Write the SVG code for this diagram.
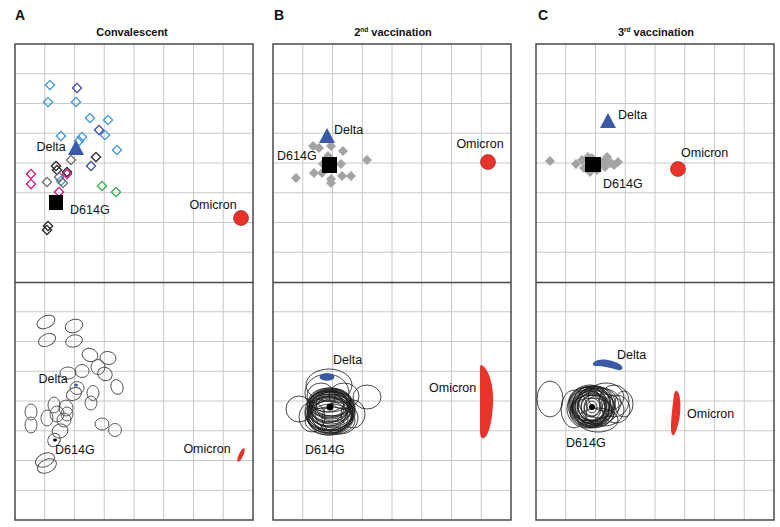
<svg xmlns="http://www.w3.org/2000/svg" xmlns:xlink="http://www.w3.org/1999/xlink" width="780" height="527" viewBox="0 0 780 527">
<style>
text{font-family:"Liberation Sans",Arial,sans-serif;fill:#111}
.lbl{font-size:12.5px}
.hd{font-size:11px;font-weight:bold}
.pl{font-size:14px;font-weight:bold}
.sup{font-size:6.5px;font-weight:bold}
.gl{fill:none;stroke:#c8c8c8;stroke-width:1}
.bd{fill:none;stroke:#4a4a4a;stroke-width:1.5}
.lb{fill:none;stroke:#3f95dc;stroke-width:1.3}
.db{fill:none;stroke:#3d4ba6;stroke-width:1.3}
.bk{fill:none;stroke:#222;stroke-width:1.3}
.gr{fill:none;stroke:#6e6e6e;stroke-width:1.3}
.mg{fill:none;stroke:#d6147e;stroke-width:1.3}
.gn{fill:none;stroke:#2bb04a;stroke-width:1.3}
.gf{fill:#a3a3a3}
.ea{fill:none;stroke:#4a4a4a;stroke-width:0.9}
.ec{fill:none;stroke:#1a1a1a;stroke-width:0.8}
.delta{fill:#3a5aa6}
.omi{fill:#e8332a}
.omc{fill:#e8332a;stroke:#8a1a14;stroke-width:0.6}
</style>
<defs>
<g id="grid">
<path class="gl" d="M29.75 44V520M59.5 44V520M89.25 44V520M119 44V520M148.75 44V520M178.5 44V520M208.25 44V520M0 73.75H238M0 103.5H238M0 133.25H238M0 163H238M0 192.75H238M0 222.5H238M0 252.25H238M0 311.75H238M0 341.5H238M0 371.25H238M0 401H238M0 430.75H238M0 460.5H238M0 490.25H238"/>
<rect class="bd" x="0" y="44" width="238" height="476"/>
<path class="bd" d="M0 282.5H238"/>
</g>
<path id="dm" d="M0,-4.6L4.6,0L0,4.6L-4.6,0Z"/>
<path id="gd" d="M0,-5L5,0L0,5L-5,0Z"/>
</defs>

<g id="headers">
<text class="pl" x="15" y="20">A</text>
<text class="hd" x="132" y="36" text-anchor="middle">Convalescent</text>
<text class="pl" x="274" y="20">B</text>
<text class="hd" x="393" y="36" text-anchor="middle">2<tspan class="sup" dy="-4">nd</tspan><tspan dy="4"> vaccination</tspan></text>
<text class="pl" x="538" y="20">C</text>
<text class="hd" x="656" y="36" text-anchor="middle">3<tspan class="sup" dy="-4">rd</tspan><tspan dy="4"> vaccination</tspan></text>
</g>

<g id="grids">
<use xlink:href="#grid" transform="translate(15,0)"/>
<use xlink:href="#grid" transform="translate(273,0)"/>
<use xlink:href="#grid" transform="translate(536,0)"/>
</g>

<!-- Panel A top -->
<g id="A-top">
<g id="A-sera">
<use xlink:href="#dm" class="lb" x="50" y="85"/>
<use xlink:href="#dm" class="lb" x="48" y="102"/>
<use xlink:href="#dm" class="lb" x="76" y="102"/>
<use xlink:href="#dm" class="lb" x="90" y="118"/>
<use xlink:href="#dm" class="lb" x="108" y="120"/>
<use xlink:href="#dm" class="lb" x="61" y="136"/>
<use xlink:href="#dm" class="lb" x="82" y="137"/>
<use xlink:href="#dm" class="lb" x="79" y="141"/>
<use xlink:href="#dm" class="lb" x="105" y="135"/>
<use xlink:href="#dm" class="lb" x="117" y="150"/>
<use xlink:href="#dm" class="lb" x="61" y="181"/>
<use xlink:href="#dm" class="db" x="77" y="88"/>
<use xlink:href="#dm" class="db" x="99" y="130"/>
<use xlink:href="#dm" class="db" x="91" y="166"/>
<use xlink:href="#dm" class="bk" x="96" y="157"/>
<use xlink:href="#dm" class="bk" x="56" y="166"/>
<use xlink:href="#dm" class="bk" x="57" y="170"/>
<use xlink:href="#dm" class="bk" x="67" y="172"/>
<use xlink:href="#dm" class="bk" x="48" y="226"/>
<use xlink:href="#dm" class="bk" x="47" y="230"/>
<use xlink:href="#dm" class="gr" x="71" y="160"/>
<use xlink:href="#dm" class="gr" x="47" y="182"/>
<use xlink:href="#dm" class="gr" x="63" y="183"/>
<use xlink:href="#dm" class="gr" x="59" y="177"/>
<use xlink:href="#dm" class="mg" x="31" y="174"/>
<use xlink:href="#dm" class="mg" x="31" y="184"/>
<use xlink:href="#dm" class="mg" x="67" y="174"/>
<use xlink:href="#dm" class="mg" x="59" y="192"/>
<use xlink:href="#dm" class="gn" x="102" y="186"/>
<use xlink:href="#dm" class="gn" x="116" y="192"/>
</g>
<g id="A-delta"><path class="delta" d="M76,140L84,155L68,155Z"/><text class="lbl" x="51" y="151" text-anchor="middle">Delta</text></g>
<g id="A-d614g"><rect x="49" y="195" width="14" height="15" fill="#000"/><text class="lbl" x="70" y="214">D614G</text></g>
<g id="A-omicron"><circle class="omc" cx="241" cy="218" r="7.5"/><text class="lbl" x="213" y="209" text-anchor="middle">Omicron</text></g>
</g>

<!-- Panel A bottom -->
<g id="A-bottom">
<g id="A-ellipses">
<ellipse class="ea" cx="46" cy="322" rx="9.5" ry="6" transform="rotate(-25 46 322)"/>
<ellipse class="ea" cx="74" cy="326" rx="9" ry="6.5" transform="rotate(-20 74 326)"/>
<ellipse class="ea" cx="47" cy="340" rx="9" ry="6" transform="rotate(-25 47 340)"/>
<ellipse class="ea" cx="74" cy="341" rx="8.5" ry="6" transform="rotate(-15 74 341)"/>
<ellipse class="ea" cx="90" cy="355" rx="8" ry="6.5" transform="rotate(20 90 355)"/>
<ellipse class="ea" cx="108" cy="358" rx="8" ry="6.5" transform="rotate(10 108 358)"/>
<ellipse class="ea" cx="98" cy="367" rx="7" ry="7.5"/>
<ellipse class="ea" cx="105" cy="374" rx="7.5" ry="6.5" transform="rotate(30 105 374)"/>
<ellipse class="ea" cx="117" cy="387" rx="6" ry="7.5" transform="rotate(-20 117 387)"/>
<ellipse class="ea" cx="82" cy="371" rx="7" ry="6.5"/>
<ellipse class="ea" cx="68" cy="373" rx="8" ry="6"/>
<ellipse class="ea" cx="77" cy="388" rx="7" ry="6.5"/>
<ellipse class="ea" cx="74" cy="394" rx="8" ry="6" transform="rotate(-30 74 394)"/>
<ellipse class="ea" cx="93" cy="393" rx="6" ry="7.5"/>
<ellipse class="ea" cx="91" cy="403" rx="6" ry="7"/>
<ellipse class="ea" cx="31" cy="412" rx="6" ry="8"/>
<ellipse class="ea" cx="31" cy="425" rx="6" ry="8"/>
<ellipse class="ea" cx="54" cy="405" rx="6" ry="8"/>
<ellipse class="ea" cx="66" cy="408" rx="7" ry="8"/>
<ellipse class="ea" cx="47" cy="418" rx="6" ry="8"/>
<ellipse class="ea" cx="57" cy="414" rx="7" ry="8"/>
<ellipse class="ea" cx="64" cy="420" rx="7" ry="7"/>
<ellipse class="ea" cx="67" cy="414" rx="6" ry="7"/>
<ellipse class="ea" cx="60" cy="431" rx="8" ry="7" transform="rotate(-20 60 431)"/>
<ellipse class="ea" cx="102" cy="424" rx="7" ry="6"/>
<ellipse class="ea" cx="115" cy="430" rx="6.5" ry="6.5"/>
<ellipse class="ea" cx="54" cy="440" rx="6" ry="7" transform="rotate(30 54 440)"/>
<ellipse class="ea" cx="45" cy="460" rx="10" ry="6.5" transform="rotate(-25 45 460)"/>
<ellipse class="ea" cx="47" cy="466" rx="10" ry="6.5" transform="rotate(-25 47 466)"/>
</g>
<g id="A-delta-b"><ellipse cx="76" cy="385" rx="2" ry="1.6" fill="#3a5aa6"/><text class="lbl" x="53" y="383" text-anchor="middle">Delta</text></g>
<g id="A-d614g-b"><ellipse cx="55" cy="440" rx="2" ry="1.6" fill="#000"/><text class="lbl" x="55" y="454">D614G</text></g>
<g id="A-omicron-b"><ellipse class="omi" cx="241" cy="455" rx="2.2" ry="7.5" transform="rotate(25 241 455)"/><text class="lbl" x="207" y="453" text-anchor="middle">Omicron</text></g>
</g>

<!-- Panel B top -->
<g id="B-top">
<g id="B-sera">
<use xlink:href="#gd" class="gf" x="313" y="146"/>
<use xlink:href="#gd" class="gf" x="319" y="148"/>
<use xlink:href="#gd" class="gf" x="331" y="146"/>
<use xlink:href="#gd" class="gf" x="343" y="151"/>
<use xlink:href="#gd" class="gf" x="367" y="160"/>
<use xlink:href="#gd" class="gf" x="328" y="156"/>
<use xlink:href="#gd" class="gf" x="341" y="164"/>
<use xlink:href="#gd" class="gf" x="323" y="164"/>
<use xlink:href="#gd" class="gf" x="314" y="173"/>
<use xlink:href="#gd" class="gf" x="322" y="173"/>
<use xlink:href="#gd" class="gf" x="296" y="178"/>
<use xlink:href="#gd" class="gf" x="342" y="176"/>
<use xlink:href="#gd" class="gf" x="351" y="176"/>
<use xlink:href="#gd" class="gf" x="331" y="179"/>
<use xlink:href="#gd" class="gf" x="331" y="183"/>
</g>
<g id="B-delta"><path class="delta" d="M327,128L335,143L319,143Z"/><text class="lbl" x="334" y="134">Delta</text></g>
<g id="B-d614g"><rect x="322" y="157" width="15" height="16" fill="#000"/><text class="lbl" x="277" y="160">D614G</text></g>
<g id="B-omicron"><circle class="omc" cx="488" cy="162" r="7.5"/><text class="lbl" x="480" y="148" text-anchor="middle">Omicron</text></g>
</g>

<!-- Panel B bottom -->
<g id="B-bottom">
<g id="B-ellipses">
<ellipse class="ec" cx="329" cy="385" rx="23" ry="16"/>
<ellipse class="ec" cx="327" cy="393" rx="22" ry="19"/>
<ellipse class="ec" cx="299" cy="409" rx="13" ry="13"/>
<ellipse class="ec" cx="367" cy="397" rx="14" ry="12"/>
<ellipse class="ec" cx="312" cy="417" rx="13" ry="15"/>
<ellipse class="ec" cx="353" cy="414" rx="12" ry="14"/>
<ellipse class="ec" cx="330" cy="421" rx="25" ry="14"/>
<ellipse class="ec" cx="321" cy="396" rx="14" ry="13"/>
<ellipse class="ec" cx="344" cy="396" rx="15" ry="13"/>
<ellipse class="ec" cx="340" cy="418" rx="18" ry="16"/>
<ellipse class="ec" cx="330" cy="402" rx="20" ry="14"/>
<ellipse class="ec" cx="331" cy="404" rx="21" ry="15"/>
<ellipse class="ec" cx="329" cy="406" rx="20" ry="16"/>
<ellipse class="ec" cx="332" cy="407" rx="22" ry="15"/>
<ellipse class="ec" cx="330" cy="409" rx="21" ry="17"/>
<ellipse class="ec" cx="328" cy="410" rx="20" ry="16"/>
<ellipse class="ec" cx="333" cy="411" rx="22" ry="17"/>
<ellipse class="ec" cx="330" cy="412" rx="23" ry="18"/>
<ellipse class="ec" cx="331" cy="414" rx="21" ry="16"/>
<ellipse class="ec" cx="329" cy="415" rx="22" ry="18"/>
<ellipse class="ec" cx="332" cy="416" rx="20" ry="17"/>
<ellipse class="ec" cx="330" cy="417" rx="23" ry="16"/>
<ellipse class="ec" cx="334" cy="413" rx="19" ry="18"/>
<ellipse class="ec" cx="327" cy="413" rx="19" ry="17"/>
<ellipse class="ec" cx="330" cy="405" rx="18" ry="13"/>
<ellipse class="ec" cx="331" cy="408" rx="24" ry="19"/>
<ellipse class="ec" cx="329" cy="411" rx="24" ry="20"/>
<ellipse class="ec" cx="333" cy="406" rx="17" ry="15"/>
<ellipse class="ec" cx="327" cy="407" rx="17" ry="16"/>
<ellipse class="ec" cx="330" cy="414" rx="25" ry="17"/>
<ellipse class="ec" cx="331" cy="419" rx="22" ry="15"/>
<ellipse class="ec" cx="328" cy="418" rx="20" ry="17"/>
<ellipse class="ec" cx="332" cy="403" rx="19" ry="13"/>
<ellipse class="ec" cx="330" cy="400" rx="21" ry="12"/>
<ellipse class="ec" cx="330" cy="404" rx="23" ry="13"/>
<ellipse class="ec" cx="331" cy="410" rx="19" ry="14"/>
</g>
<g id="B-delta-b"><ellipse cx="327" cy="377" rx="7.5" ry="3.8" fill="#3a5aa6"/><text class="lbl" x="333" y="364">Delta</text></g>
<g id="B-d614g-b"><circle cx="330" cy="407" r="3.5" fill="#000"/><text class="lbl" x="305" y="454">D614G</text></g>
<g id="B-omicron-b"><path class="omi" d="M481,365C488,367 494,384 493,404C492,424 488,436 484,438C481,439 480,436 480,430L480,372C480,367 480,365 481,365Z"/><text class="lbl" x="429" y="392">Omicron</text></g>
</g>

<!-- Panel C top -->
<g id="C-top">
<g id="C-sera">
<use xlink:href="#gd" class="gf" x="550" y="161"/>
<use xlink:href="#gd" class="gf" x="576" y="164"/>
<use xlink:href="#gd" class="gf" x="582" y="160"/>
<use xlink:href="#gd" class="gf" x="588" y="157"/>
<use xlink:href="#gd" class="gf" x="592" y="158"/>
<use xlink:href="#gd" class="gf" x="584" y="168"/>
<use xlink:href="#gd" class="gf" x="590" y="172"/>
<use xlink:href="#gd" class="gf" x="597" y="170"/>
<use xlink:href="#gd" class="gf" x="603" y="162"/>
<use xlink:href="#gd" class="gf" x="607" y="157"/>
<use xlink:href="#gd" class="gf" x="611" y="163"/>
<use xlink:href="#gd" class="gf" x="614" y="165"/>
<use xlink:href="#gd" class="gf" x="618" y="162"/>
<use xlink:href="#gd" class="gf" x="605" y="167"/>
</g>
<g id="C-delta"><path class="delta" d="M608,113L616,128L600,128Z"/><text class="lbl" x="618" y="119">Delta</text></g>
<g id="C-d614g"><rect x="585" y="157" width="16" height="15" fill="#000"/><text class="lbl" x="603" y="188">D614G</text></g>
<g id="C-omicron"><circle class="omc" cx="678" cy="169" r="7.5"/><text class="lbl" x="681" y="157">Omicron</text></g>
</g>

<!-- Panel C bottom -->
<g id="C-bottom">
<g id="C-ellipses">
<ellipse class="ec" cx="550" cy="399" rx="13" ry="18"/>
<ellipse class="ec" cx="624" cy="404" rx="9" ry="13"/>
<ellipse class="ec" cx="614" cy="401" rx="15" ry="16"/>
<ellipse class="ec" cx="574" cy="409" rx="13" ry="19"/>
<ellipse class="ec" cx="598" cy="420" rx="20" ry="12"/>
<ellipse class="ec" cx="606" cy="397" rx="18" ry="14"/>
<ellipse class="ec" cx="590" cy="403" rx="20" ry="18"/>
<ellipse class="ec" cx="592" cy="405" rx="19" ry="19"/>
<ellipse class="ec" cx="594" cy="407" rx="20" ry="17"/>
<ellipse class="ec" cx="591" cy="408" rx="18" ry="19"/>
<ellipse class="ec" cx="593" cy="406" rx="21" ry="18"/>
<ellipse class="ec" cx="590" cy="409" rx="19" ry="17"/>
<ellipse class="ec" cx="595" cy="404" rx="18" ry="18"/>
<ellipse class="ec" cx="589" cy="406" rx="17" ry="19"/>
<ellipse class="ec" cx="592" cy="410" rx="20" ry="16"/>
<ellipse class="ec" cx="596" cy="409" rx="19" ry="18"/>
<ellipse class="ec" cx="588" cy="404" rx="19" ry="17"/>
<ellipse class="ec" cx="593" cy="403" rx="22" ry="17"/>
<ellipse class="ec" cx="591" cy="411" rx="21" ry="16"/>
<ellipse class="ec" cx="594" cy="405" rx="16" ry="17"/>
<ellipse class="ec" cx="590" cy="407" rx="15" ry="16"/>
<ellipse class="ec" cx="592" cy="407" rx="14" ry="14"/>
<ellipse class="ec" cx="593" cy="408" rx="12" ry="13"/>
<ellipse class="ec" cx="591" cy="406" rx="10" ry="11"/>
<ellipse class="ec" cx="592" cy="407" rx="8" ry="9"/>
<ellipse class="ec" cx="592" cy="407" rx="5" ry="6"/>
<ellipse class="ec" cx="597" cy="406" rx="22" ry="19"/>
<ellipse class="ec" cx="587" cy="409" rx="20" ry="19"/>
<ellipse class="ec" cx="600" cy="403" rx="21" ry="15"/>
<ellipse class="ec" cx="585" cy="405" rx="17" ry="18"/>
<ellipse class="ec" cx="604" cy="410" rx="20" ry="16"/>
<ellipse class="ec" cx="592" cy="413" rx="22" ry="15"/>
<ellipse class="ec" cx="616" cy="409" rx="14" ry="14"/>
</g>
<g id="C-delta-b"><path class="delta" d="M594,362C600,357 614,360 621,365C624,368 622,371 618,370C611,368 603,366 596,366C593,366 592,364 594,362Z"/><text class="lbl" x="617" y="359">Delta</text></g>
<g id="C-d614g-b"><circle cx="592" cy="407" r="3" fill="#000"/><text class="lbl" x="566" y="447">D614G</text></g>
<g id="C-omicron-b"><path class="omi" d="M677,391C680,393 681,403 680,414C679,424 676,432 674,435C672,436 671,433 671,428C671,418 673,402 674,394C675,391 676,390 677,391Z"/><text class="lbl" x="687" y="418">Omicron</text></g>
</g>
</svg>
